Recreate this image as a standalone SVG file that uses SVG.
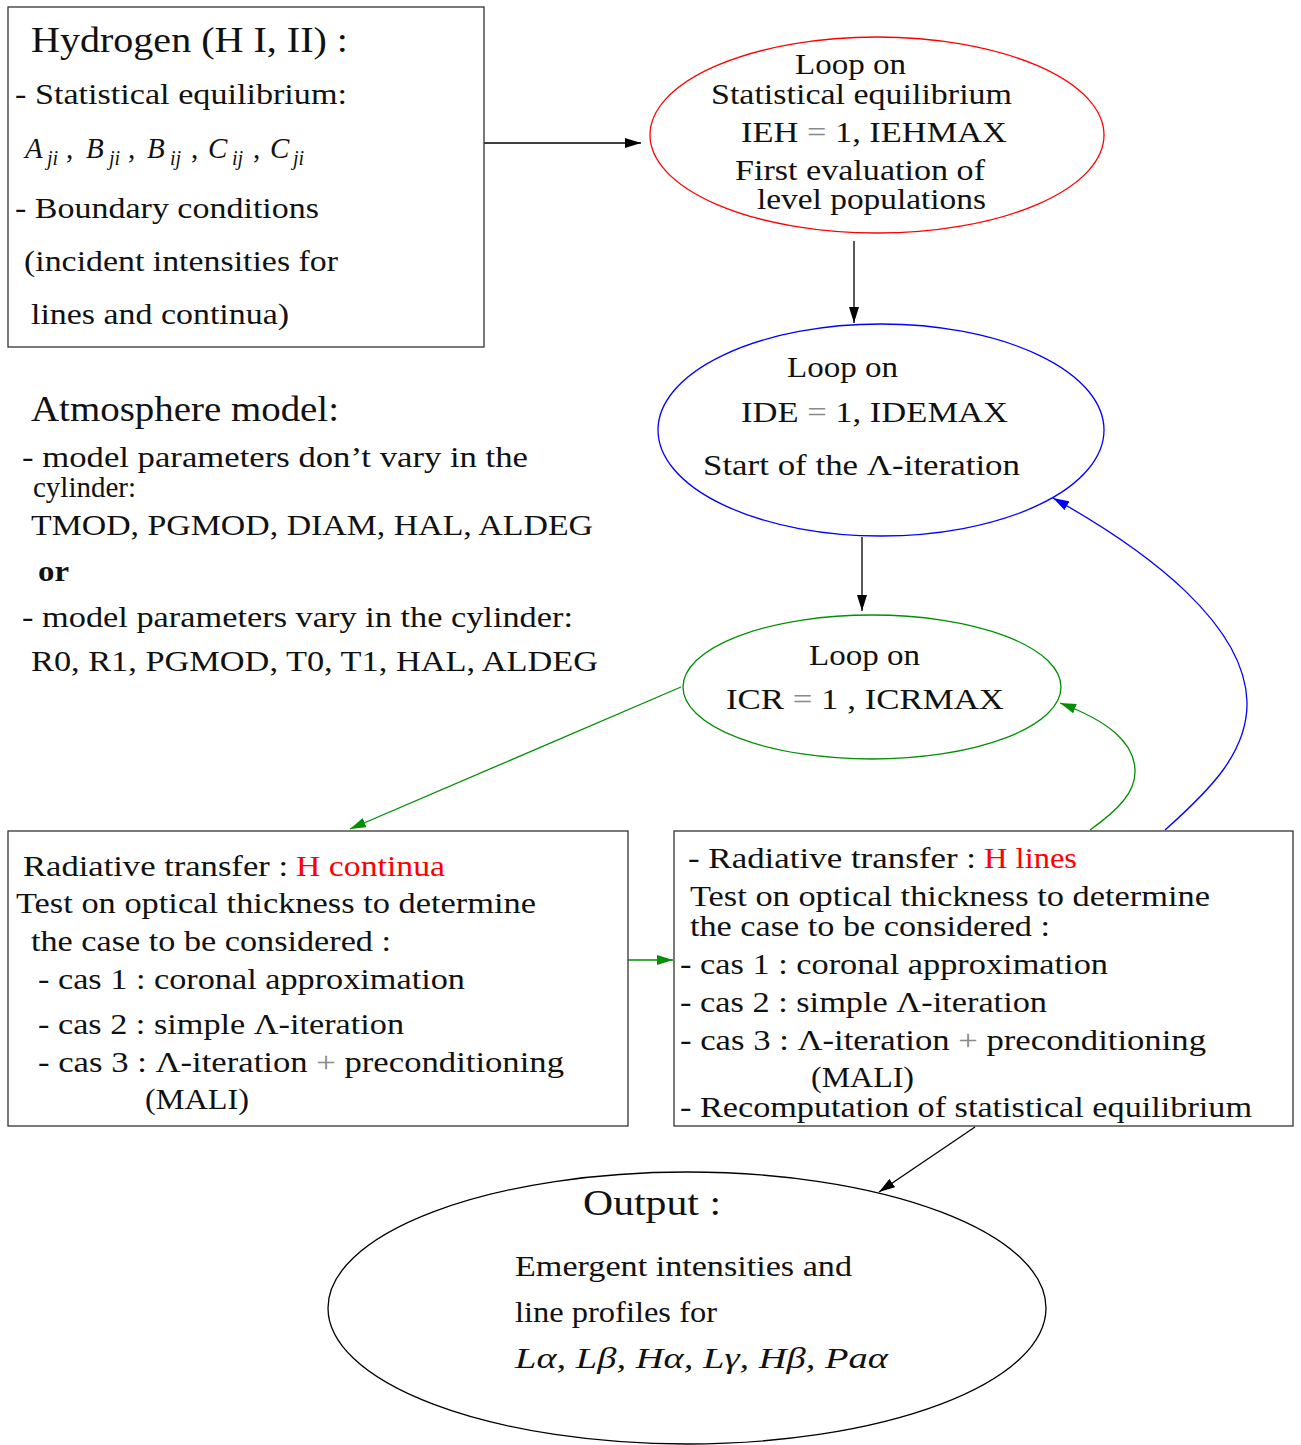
<svg xmlns="http://www.w3.org/2000/svg" width="1301" height="1445" viewBox="0 0 1301 1445">
<style>
text{font-family:"Liberation Serif","Times New Roman",serif;font-size:29px;fill:#111}
.big{font-size:35px}
.it{font-style:italic}
.sub{font-size:20px;font-style:italic}
.red{fill:#ff0000}
.g{fill:#8a8a8a}
.box{fill:#fff;stroke:#333;stroke-width:1.3}
.edge{fill:none;stroke-width:1.3}
</style>
<defs>
<marker id="ab" viewBox="0 0 16 10" refX="16" refY="5" markerWidth="16" markerHeight="10" markerUnits="userSpaceOnUse" orient="auto"><path d="M0,0 L16,5 L0,10 z" fill="#000"/></marker>
<marker id="ag" viewBox="0 0 16 10" refX="16" refY="5" markerWidth="16" markerHeight="10" markerUnits="userSpaceOnUse" orient="auto"><path d="M0,0 L16,5 L0,10 z" fill="#008f00"/></marker>
<marker id="abl" viewBox="0 0 16 10" refX="16" refY="5" markerWidth="16" markerHeight="10" markerUnits="userSpaceOnUse" orient="auto"><path d="M0,0 L16,5 L0,10 z" fill="#0000ff"/></marker>
</defs>
<rect width="1301" height="1445" fill="#fff"/>

<g id="connectors">
<line class="edge" x1="484" y1="143" x2="641" y2="143" stroke="#000" marker-end="url(#ab)"/>
<line class="edge" x1="854" y1="241" x2="854" y2="323" stroke="#000" marker-end="url(#ab)"/>
<line class="edge" x1="862" y1="537" x2="862" y2="611" stroke="#000" marker-end="url(#ab)"/>
<line class="edge" x1="681" y1="687" x2="350" y2="829" stroke="#008f00" marker-end="url(#ag)"/>
<line class="edge" x1="628" y1="960" x2="673" y2="960" stroke="#008f00" marker-end="url(#ag)"/>
<path class="edge" d="M1090,830 C1118,810 1136,792 1135,770 C1134,742 1108,721 1060,703" stroke="#008f00" marker-end="url(#ag)"/>
<path class="edge" d="M1165,830 C1210,790 1248,752 1247,702 C1245,625 1150,552 1053,498" stroke="#0000ff" marker-end="url(#abl)"/>
<line class="edge" x1="975" y1="1127" x2="879" y2="1192" stroke="#000" marker-end="url(#ab)"/>
</g>

<g id="hydrogen">
<rect class="box" x="8" y="7" width="476" height="340"/>
<text class="big" x="31" y="52" textLength="317" lengthAdjust="spacingAndGlyphs">Hydrogen (H I, II) :</text>
<text x="15" y="104" textLength="332" lengthAdjust="spacingAndGlyphs">- Statistical equilibrium:</text>
<text y="158"><tspan class="it" x="25">A</tspan><tspan class="sub" x="47" dy="7">ji</tspan><tspan x="66" dy="-7">,</tspan><tspan class="it" x="86">B</tspan><tspan class="sub" x="109" dy="7">ji</tspan><tspan x="128" dy="-7">,</tspan><tspan class="it" x="147">B</tspan><tspan class="sub" x="170" dy="7">ij</tspan><tspan x="191" dy="-7">,</tspan><tspan class="it" x="208">C</tspan><tspan class="sub" x="232" dy="7">ij</tspan><tspan x="253" dy="-7">,</tspan><tspan class="it" x="270">C</tspan><tspan class="sub" x="293" dy="7">ji</tspan></text>
<text x="15" y="218" textLength="304" lengthAdjust="spacingAndGlyphs">- Boundary conditions</text>
<text x="24" y="271" textLength="314" lengthAdjust="spacingAndGlyphs">(incident intensities for</text>
<text x="31" y="324" textLength="258" lengthAdjust="spacingAndGlyphs">lines and continua)</text>
</g>

<g id="atmosphere">
<text class="big" x="31" y="421" textLength="308" lengthAdjust="spacingAndGlyphs">Atmosphere model:</text>
<text x="22" y="467" textLength="506" lengthAdjust="spacingAndGlyphs">- model parameters don’t vary in the</text>
<text x="33" y="497" font-size="27">cylinder:</text>
<text x="31" y="535" textLength="562" lengthAdjust="spacingAndGlyphs">TMOD, PGMOD, DIAM, HAL, ALDEG</text>
<text x="38" y="581" font-weight="bold" textLength="31" lengthAdjust="spacingAndGlyphs">or</text>
<text x="22" y="627" textLength="551" lengthAdjust="spacingAndGlyphs">- model parameters vary in the cylinder:</text>
<text x="31" y="671" textLength="567" lengthAdjust="spacingAndGlyphs">R0, R1, PGMOD, T0, T1, HAL, ALDEG</text>
</g>

<g id="loop-ieh">
<ellipse cx="877" cy="135" rx="227" ry="98" fill="none" stroke="#ff0000" stroke-width="1.3"/>
<text x="795" y="74" textLength="111" lengthAdjust="spacingAndGlyphs">Loop on</text>
<text x="711" y="104" textLength="301" lengthAdjust="spacingAndGlyphs">Statistical equilibrium</text>
<text x="741" y="142" textLength="266" lengthAdjust="spacingAndGlyphs">IEH <tspan class="g">=</tspan> 1, IEHMAX</text>
<text x="735" y="180" textLength="250" lengthAdjust="spacingAndGlyphs">First evaluation of</text>
<text x="757" y="209" textLength="229" lengthAdjust="spacingAndGlyphs">level populations</text>
</g>

<g id="loop-ide">
<ellipse cx="881" cy="430" rx="223" ry="106" fill="none" stroke="#0000ff" stroke-width="1.3"/>
<text x="787" y="377" textLength="111" lengthAdjust="spacingAndGlyphs">Loop on</text>
<text x="741" y="422" textLength="267" lengthAdjust="spacingAndGlyphs">IDE <tspan class="g">=</tspan> 1, IDEMAX</text>
<text x="703" y="475" textLength="317" lengthAdjust="spacingAndGlyphs">Start of the Λ-iteration</text>
</g>

<g id="loop-icr">
<ellipse cx="872" cy="687" rx="189" ry="72" fill="none" stroke="#008f00" stroke-width="1.3"/>
<text x="809" y="665" textLength="111" lengthAdjust="spacingAndGlyphs">Loop on</text>
<text x="726" y="709" textLength="278" lengthAdjust="spacingAndGlyphs">ICR <tspan class="g">=</tspan> 1 , ICRMAX</text>
</g>

<g id="rt-continua">
<rect class="box" x="8" y="831" width="620" height="295"/>
<text x="23" y="876" textLength="265" lengthAdjust="spacingAndGlyphs">Radiative transfer :</text>
<text class="red" x="296" y="876" textLength="149" lengthAdjust="spacingAndGlyphs">H continua</text>
<text x="16" y="913" textLength="520" lengthAdjust="spacingAndGlyphs">Test on optical thickness to determine</text>
<text x="31" y="951" textLength="360" lengthAdjust="spacingAndGlyphs">the case to be considered :</text>
<text x="38" y="989" textLength="427" lengthAdjust="spacingAndGlyphs">- cas 1 : coronal approximation</text>
<text x="38" y="1034" textLength="366" lengthAdjust="spacingAndGlyphs">- cas 2 : simple Λ-iteration</text>
<text x="38" y="1072" textLength="526" lengthAdjust="spacingAndGlyphs">- cas 3 : Λ-iteration <tspan class="g">+</tspan> preconditioning</text>
<text x="145" y="1109" textLength="104" lengthAdjust="spacingAndGlyphs">(MALI)</text>
</g>

<g id="rt-lines">
<rect class="box" x="674" y="831" width="619" height="295"/>
<text x="688" y="868" textLength="288" lengthAdjust="spacingAndGlyphs">- Radiative transfer :</text>
<text class="red" x="984" y="868" textLength="93" lengthAdjust="spacingAndGlyphs">H lines</text>
<text x="690" y="906" textLength="520" lengthAdjust="spacingAndGlyphs">Test on optical thickness to determine</text>
<text x="690" y="936" textLength="360" lengthAdjust="spacingAndGlyphs">the case to be considered :</text>
<text x="680" y="974" textLength="428" lengthAdjust="spacingAndGlyphs">- cas 1 : coronal approximation</text>
<text x="680" y="1012" textLength="367" lengthAdjust="spacingAndGlyphs">- cas 2 : simple Λ-iteration</text>
<text x="680" y="1050" textLength="526" lengthAdjust="spacingAndGlyphs">- cas 3 : Λ-iteration <tspan class="g">+</tspan> preconditioning</text>
<text x="811" y="1087" textLength="103" lengthAdjust="spacingAndGlyphs">(MALI)</text>
<text x="680" y="1117" textLength="572" lengthAdjust="spacingAndGlyphs">- Recomputation of statistical equilibrium</text>
</g>

<g id="output">
<ellipse cx="687" cy="1308" rx="359" ry="136" fill="none" stroke="#000" stroke-width="1.3"/>
<text class="big" x="583" y="1215" textLength="138" lengthAdjust="spacingAndGlyphs">Output :</text>
<text x="515" y="1276" textLength="337" lengthAdjust="spacingAndGlyphs">Emergent intensities and</text>
<text x="515" y="1322" textLength="202" lengthAdjust="spacingAndGlyphs">line profiles for</text>
<text class="it" x="515" y="1368" textLength="373" lengthAdjust="spacingAndGlyphs">Lα, Lβ, Hα, Lγ, Hβ, Paα</text>
</g>
</svg>
